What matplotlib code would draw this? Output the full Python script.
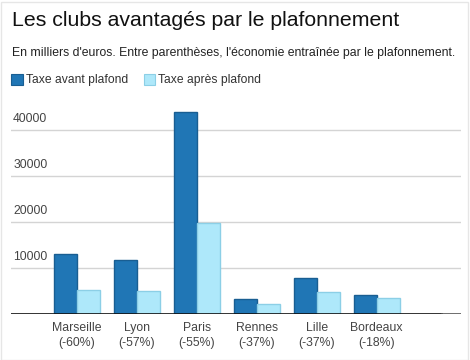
import matplotlib
matplotlib.use("Agg")
import matplotlib.pyplot as plt
import numpy as np
from matplotlib.patches import Rectangle

clubs = ["Marseille", "Lyon", "Paris", "Rennes", "Lille", "Bordeaux"]
economies = ["-60%", "-57%", "-55%", "-37%", "-37%", "-18%"]
avant = [13000, 11700, 43900, 3300, 7800, 4100]
apres = [5200, 5000, 19800, 2100, 4800, 3450]
yticks = [10000, 20000, 30000, 40000]

DARK = "#2076b5"
DARK_EDGE = "#195e92"
LIGHT = "#aee8fa"
LIGHT_EDGE = "#8ccfe6"
FONT = "Liberation Sans"

W, H = 470, 360
fig = plt.figure(figsize=(W / 100, H / 100), dpi=100)
fig.patch.set_facecolor("white")

# faint outer border
fig.add_artist(Rectangle((0.5 / W, 0.5 / H), 1 - 2.5 / W, 1 - 2.5 / H,
                         transform=fig.transFigure, fill=False,
                         edgecolor="#e6e6e6", lw=1))

ax_left, ax_right = 11, 461
ax_bottom, ax_top = 314, 107
ax = fig.add_axes([ax_left / W, 1 - ax_bottom / H,
                   (ax_right - ax_left) / W, (ax_bottom - ax_top) / H])
ax.set_facecolor("none")

x = np.arange(len(clubs))
bw = 23 / 60
ax.bar(x - bw / 2, avant, width=bw, color=DARK, edgecolor=DARK_EDGE, lw=1, zorder=3)
ax.bar(x + bw / 2, apres, width=bw, color=LIGHT, edgecolor=LIGHT_EDGE, lw=1, zorder=3)

ax.set_xlim(-1.095, 6.405)
ax.set_ylim(0, 45000)

for yt in yticks:
    ax.axhline(yt, color="#d4d4d4", lw=1, zorder=1)
    ax.annotate(str(yt), xy=(0, yt), xycoords=("axes fraction", "data"),
                xytext=(1.5, 3.5), textcoords="offset points",
                ha="left", va="bottom", fontsize=8.7, color="#444444",
                family=FONT)
ax.axhline(0, xmin=0, xmax=(442 - ax_left) / (ax_right - ax_left),
           color="#111111", lw=1.2, zorder=4)
ax.axhline(0, xmin=(442 - ax_left) / (ax_right - ax_left), xmax=1,
           color="#555555", lw=1.2, zorder=4)

for s in ax.spines.values():
    s.set_visible(False)
ax.set_yticks([])
ax.set_xticks(x)
ax.set_xticklabels([f"{c}\n({e})" for c, e in zip(clubs, economies)],
                   fontsize=8.8, color="#444444", family=FONT, linespacing=1.25)
ax.tick_params(axis="x", length=0, pad=6)

fig.text(12 / W, 1 - 20 / H, "Les clubs avantagés par le plafonnement",
         fontsize=15.3, color="#111111", family=FONT, ha="left", va="center")
fig.text(12 / W, 1 - 53 / H,
         "En milliers d'euros. Entre parenthèses, l'économie entraînée par le plafonnement.",
         fontsize=8.85, color="#222222", family=FONT, ha="left", va="center")

# legend
for (x0, label, fc, ec, tx) in [(11, "Taxe avant plafond", DARK, DARK_EDGE, 26.5),
                               (143.5, "Taxe après plafond", LIGHT, LIGHT_EDGE, 158)]:
    fig.add_artist(Rectangle((x0 / W, 1 - 85 / H), 11.5 / W, 11 / H,
                             transform=fig.transFigure, facecolor=fc,
                             edgecolor=ec, lw=0.8))
    fig.text(tx / W, 1 - 80 / H, label, fontsize=8.7, color="#333333",
             family=FONT, ha="left", va="center")

fig.savefig("out.png", dpi=100, facecolor="white")
